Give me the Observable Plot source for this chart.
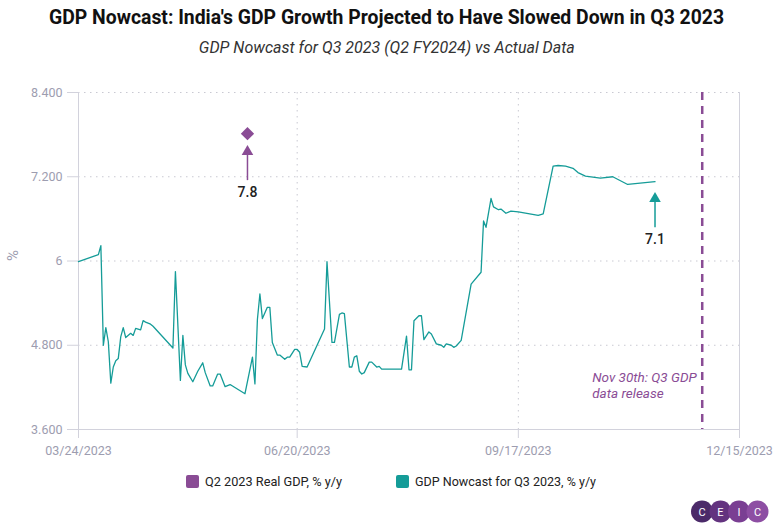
<!DOCTYPE html>
<html><head><meta charset="utf-8">
<script src="https://cdn.jsdelivr.net/npm/d3@7"></script>
<script src="https://cdn.jsdelivr.net/npm/@observablehq/plot@0.6"></script>
<style>
body{margin:0;background:#fff;font-family:Roboto,sans-serif;}
#wrap{position:relative;width:773px;height:528px;overflow:hidden;background:#fff;}
.fit{position:absolute;left:0;width:773px;text-align:center;white-space:nowrap;line-height:1;}
.fit span{display:inline-block;transform-origin:center center;}
#title{top:7px;font-size:20px;font-weight:700;color:#111;}
#subtitle{top:40px;font-size:16px;font-style:italic;color:#333;}
#chart{position:absolute;left:0;top:62px;}
.lg{position:absolute;white-space:nowrap;line-height:1;font-size:13.5px;color:#222;transform-origin:left center;}
.sw{position:absolute;width:13px;height:13px;border-radius:2px;}
#logo{position:absolute;left:690px;top:499px;}
</style></head>
<body>
<div id="wrap">
  <div id="title" class="fit"><span></span></div>
  <div id="subtitle" class="fit"><span></span></div>
  <div id="chart"></div>
  <div id="legend"></div>
  <svg id="logo" width="83" height="26"></svg>
</div>
<script>
// ---- data ----
const titleText = "GDP Nowcast: India's GDP Growth Projected to Have Slowed Down in Q3 2023";
const subtitleText = "GDP Nowcast for Q3 2023 (Q2 FY2024) vs Actual Data";

const nowcastDates = ["2023-03-24","2023-04-01","2023-04-02","2023-04-03","2023-04-04","2023-04-05","2023-04-06","2023-04-07","2023-04-08","2023-04-09","2023-04-10","2023-04-11","2023-04-12","2023-04-14","2023-04-15","2023-04-16","2023-04-18","2023-04-19","2023-04-20","2023-04-22","2023-04-23","2023-05-01","2023-05-02","2023-05-04","2023-05-05","2023-05-06","2023-05-07","2023-05-09","2023-05-11","2023-05-13","2023-05-14","2023-05-16","2023-05-17","2023-05-19","2023-05-20","2023-05-22","2023-05-24","2023-05-30","2023-06-02","2023-06-03","2023-06-04","2023-06-05","2023-06-06","2023-06-08","2023-06-09","2023-06-10","2023-06-12","2023-06-13","2023-06-15","2023-06-16","2023-06-17","2023-06-19","2023-06-20","2023-06-21","2023-06-22","2023-06-24","2023-07-01","2023-07-02","2023-07-04","2023-07-05","2023-07-07","2023-07-08","2023-07-09","2023-07-11","2023-07-12","2023-07-13","2023-07-14","2023-07-15","2023-07-16","2023-07-17","2023-07-19","2023-07-20","2023-07-22","2023-07-23","2023-07-24","2023-08-01","2023-08-03","2023-08-04","2023-08-05","2023-08-06","2023-08-08","2023-08-09","2023-08-10","2023-08-12","2023-08-13","2023-08-15","2023-08-17","2023-08-18","2023-08-19","2023-08-21","2023-08-22","2023-08-23","2023-08-25","2023-08-29","2023-09-02","2023-09-03","2023-09-04","2023-09-06","2023-09-07","2023-09-09","2023-09-10","2023-09-12","2023-09-14","2023-09-17","2023-09-25","2023-09-27","2023-10-01","2023-10-03","2023-10-06","2023-10-09","2023-10-11","2023-10-14","2023-10-20","2023-10-25","2023-10-31","2023-11-11"];
const nowcastValues = [5.99,6.09,6.22,4.80,5.05,4.85,4.26,4.49,4.58,4.61,4.92,5.05,4.91,4.97,4.94,5.04,5.02,5.15,5.13,5.10,5.07,4.76,5.85,4.30,4.94,4.52,4.40,4.28,4.43,4.55,4.41,4.22,4.22,4.39,4.39,4.21,4.24,4.11,4.63,4.25,5.17,5.53,5.18,5.34,5.34,4.84,4.66,4.66,4.60,4.63,4.63,4.74,4.74,4.70,4.50,4.49,5.03,5.99,4.84,4.84,5.24,5.26,5.25,4.49,4.49,4.63,4.65,4.43,4.39,4.41,4.56,4.56,4.49,4.50,4.46,4.46,4.93,4.45,4.45,5.15,5.22,5.22,4.88,4.99,4.96,4.82,4.80,4.77,4.82,4.80,4.77,4.79,4.87,5.67,5.84,6.57,6.48,6.89,6.77,6.73,6.74,6.68,6.71,6.70,6.65,6.67,7.35,7.36,7.35,7.32,7.26,7.21,7.18,7.20,7.09,7.13];

const realGdpDates = ["2023-05-31"];
const realGdpValues = [7.8];

const annotationLabels = ["7.8", "7.1"];

const releaseDates = ["2023-11-30"];
const releaseLabels = ["Nov 30th: Q3 GDP\ndata release"];

const xDomain = ["2023-03-24", "2023-12-15"];
const xTickDates = ["2023-03-24", "2023-06-20", "2023-09-17", "2023-12-15"];
const yTicks = [3.6, 4.8, 6, 7.2, 8.4];
const yTickLabels = ["3.600", "4.800", "6", "7.200", "8.400"];
const yAxisLabel = "%";

const seriesNames = ["Q2 2023 Real GDP, % y/y", "GDP Nowcast for Q3 2023, % y/y"];
const purple = "#8a4c95", teal = "#159c98";
const seriesColors = [purple, teal];

// ---- build ----
const parse = d3.utcParse("%Y-%m-%d");
const nowcast = nowcastDates.map((d, i) => ({date: parse(d), value: nowcastValues[i]}));
const real = realGdpDates.map((d, i) => ({date: parse(d), value: realGdpValues[i]}));
const last = nowcast[nowcast.length - 1];
const annotations = [
  {date: real[0].date, value: real[0].value, label: annotationLabels[0], color: purple},
  {date: last.date, value: last.value, label: annotationLabels[1], color: teal}
];
const release = releaseDates.map((d, i) => ({date: parse(d), label: releaseLabels[i]}));
const xTicks = xTickDates.map(parse);
const xDom = xDomain.map(parse);
const axisColor = "#d2d2dc", textColor = "#9d9db0", gridColor = "#c9c9d2";

const plot = Plot.plot({
  width: 773, height: 404,
  marginTop: 30, marginBottom: 37, marginLeft: 78, marginRight: 34,
  style: {fontFamily: "Roboto, sans-serif", fontSize: "12.5px", color: textColor, background: "white", overflow: "visible"},
  x: {type: "utc", domain: xDom},
  y: {domain: [yTicks[0], yTicks[yTicks.length - 1]]},
  color: {type: "identity"},
  marks: [
    Plot.gridY(yTicks.slice(1), {stroke: gridColor, strokeOpacity: 1, strokeDasharray: "1.5,4.5"}),
    Plot.gridX(xTicks.slice(1, -1), {stroke: gridColor, strokeOpacity: 1, strokeDasharray: "1.5,4.5"}),
    Plot.axisY(yTicks, {tickFormat: d => yTickLabels[yTicks.indexOf(d)], tickSize: 11, tickPadding: 5,
      stroke: axisColor, fill: textColor, fontSize: 12.5, label: null}),
    Plot.text([yAxisLabel], {text: d => d, frameAnchor: "left", rotate: -90, dx: -65, fill: textColor, fontSize: 15}),
    Plot.axisX(xTicks, {tickFormat: d3.utcFormat("%m/%d/%Y"), tickSize: 9, tickPadding: 8,
      stroke: axisColor, fill: textColor, fontSize: 12.5, label: null}),
    Plot.ruleX(xDom, {stroke: axisColor}),
    Plot.ruleY([yTicks[0]], {stroke: axisColor}),
    Plot.ruleX(release, {x: "date", stroke: purple, strokeWidth: 2.5, strokeDasharray: "8,6"}),
    Plot.text(release, {x: "date", text: "label", frameAnchor: "bottom", lineAnchor: "bottom",
      textAnchor: "start", dx: -110, dy: -32, fill: purple, fontStyle: "italic", fontSize: 13.5, lineHeight: 1.12}),
    Plot.line(nowcast, {x: "date", y: "value", stroke: teal, strokeWidth: 1.3}),
    Plot.dot(real, {x: "date", y: "value", symbol: "diamond2", r: 6, fill: purple, dy: -1}),
    Plot.ruleX(annotations, {x: "date", y1: "value", y2: "value", stroke: "color", strokeWidth: 1.5,
      insetTop: 18, insetBottom: -46}),
    Plot.dot(annotations, {x: "date", y: "value", symbol: "triangle", r: 4.3, fill: "color", dy: 17}),
    Plot.text(annotations, {x: "date", y: "value", text: "label", dy: 58, fill: "#222", fontSize: 14, fontWeight: 500})
  ]
});
document.getElementById("chart").appendChild(plot);

// titles (fit to reference widths)
function fit(sel, text, target) {
  const s = document.querySelector(sel + " span");
  s.textContent = text;
  const w = s.getBoundingClientRect().width;
  s.style.transform = `scaleX(${target / w})`;
}
fit("#title", titleText, 675);
fit("#subtitle", subtitleText, 376);

// legend
const legend = document.getElementById("legend");
const lgSwatchX = [186, 396], lgTextX = [205, 415], lgTextW = [137, 181];
seriesNames.forEach((name, i) => {
  const sw = document.createElement("div");
  sw.className = "sw";
  sw.style.left = lgSwatchX[i] + "px"; sw.style.top = "475px"; sw.style.background = seriesColors[i];
  legend.appendChild(sw);
  const t = document.createElement("div");
  t.className = "lg"; t.textContent = name;
  t.style.left = lgTextX[i] + "px"; t.style.top = "475px";
  legend.appendChild(t);
  const w = t.getBoundingClientRect().width;
  t.style.transform = `scaleX(${lgTextW[i] / w})`;
});

// logo
const logo = d3.select("#logo");
const logoLetters = ["C", "E", "I", "C"];
const logoColors = ["#4b2a69", "#63337f", "#7a3f93", "#8d4ea3"];
logoLetters.forEach((l, i) => {
  logo.append("circle").attr("cx", 12 + i * 18.5).attr("cy", 12.5).attr("r", 11).attr("fill", logoColors[i]);
});
logoLetters.forEach((l, i) => {
  logo.append("text").attr("x", 12 + i * 18.5).attr("y", 16.5).attr("text-anchor", "middle")
    .attr("fill", "#fff").attr("font-size", 11).attr("font-family", "Roboto").text(l);
});
</script>
</body></html>
